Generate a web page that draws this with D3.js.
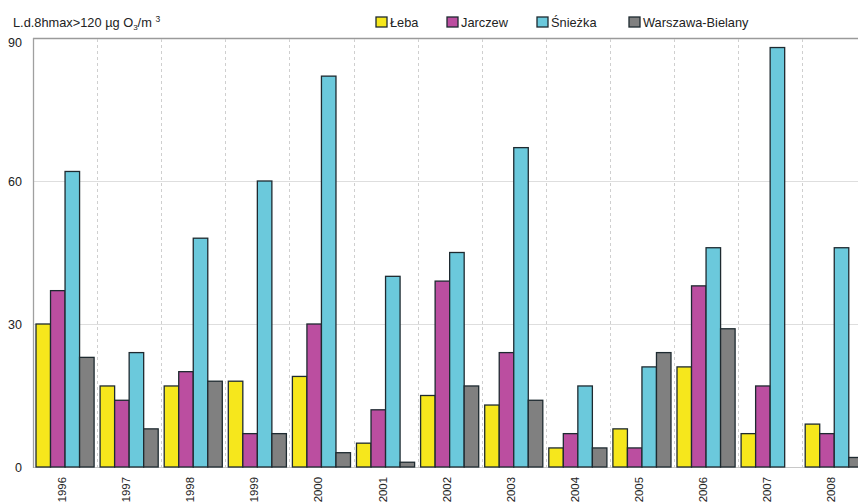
<!DOCTYPE html>
<html>
<head>
<meta charset="utf-8">
<script src="https://cdn.jsdelivr.net/npm/d3@7"></script>
<style>
body { margin: 0; background: #fff; }
svg { display: block; font-family: "Liberation Sans", Arial, sans-serif; }
</style>
</head>
<body>
<svg id="chart" width="858" height="503"></svg>
<script>
const years = ["1996","1997","1998","1999","2000","2001","2002","2003","2004","2005","2006","2007","2008"];
const seriesNames = ["Łeba", "Jarczew", "Śnieżka", "Warszawa-Bielany"];
const leba     = [30, 17, 17, 18, 19, 5, 15, 13, 4, 8, 21, 7, 9];
const jarczew  = [37, 14, 20, 7, 30, 12, 39, 24, 7, 4, 38, 17, 7];
const sniezka  = [62, 24, 48, 60, 82, 40, 45, 67, 17, 21, 46, 88, 46];
const warszawa = [23, 8, 18, 7, 3, 1, 17, 14, 4, 24, 29, 0, 2];
const yTicks = [0, 30, 60, 90];
const colors = ["#f6e71c", "#bb4ea0", "#6bc9dc", "#808080"];

const values = [leba, jarczew, sniezka, warszawa];
const data = years.map((yr, i) => ({ year: yr, vals: seriesNames.map((s, k) => ({ key: s, value: values[k][i], color: colors[k] })) }));

const svg = d3.select("#chart");
const pLeft = 33, pBottom = 467, pTop = 38, step = 64.1;

const x0 = d3.scaleBand().domain(years).range([pLeft, pLeft + step * years.length]).paddingInner(0).paddingOuter(0);
const x1 = d3.scaleBand().domain(seriesNames).range([3, x0.bandwidth() - 3]).padding(0);
const y = d3.scaleLinear().domain([0, 90]).range([pBottom, pTop]);

// horizontal grid
svg.append("g").selectAll("line").data(yTicks.filter(t => t > 0)).join("line")
  .attr("x1", pLeft).attr("x2", 858)
  .attr("y1", d => y(d) + 0.5).attr("y2", d => y(d) + 0.5)
  .attr("stroke", d => d === 90 ? "#9a9a9a" : "#dedede")
  .attr("stroke-width", d => d === 90 ? 1.3 : 1);

// vertical dashed grid
svg.append("g").selectAll("line").data(years.slice(1)).join("line")
  .attr("x1", d => Math.round(x0(d)) + 0.5).attr("x2", d => Math.round(x0(d)) + 0.5)
  .attr("y1", pTop + 1).attr("y2", pBottom)
  .attr("stroke", "#cfcfcf").attr("stroke-dasharray", "3,3");

// bottom baseline
svg.append("line").attr("x1", pLeft).attr("x2", 858).attr("y1", pBottom + 0.5).attr("y2", pBottom + 0.5)
  .attr("stroke", "#c8c8c8");

// left axis line
svg.append("line").attr("x1", pLeft + 0.5).attr("x2", pLeft + 0.5).attr("y1", pTop).attr("y2", pBottom + 1)
  .attr("stroke", "#a0a0a0").attr("stroke-width", 1.3);

// bars
const groups = svg.append("g").selectAll("g").data(data).join("g")
  .attr("transform", d => `translate(${x0(d.year)},0)`);
groups.selectAll("rect").data(d => d.vals.filter(v => v.value > 0)).join("rect")
  .attr("x", d => x1(d.key))
  .attr("width", x1.bandwidth())
  .attr("y", d => y(d.value))
  .attr("height", d => y(0) - y(d.value))
  .attr("fill", d => d.color)
  .attr("stroke", "#1e2a30").attr("stroke-width", 1.3);

// y axis labels
const yAxis = d3.axisLeft(y).tickValues(yTicks).tickSize(0).tickPadding(11);
const ya = svg.append("g").attr("transform", `translate(${pLeft},0)`).call(yAxis);
ya.select(".domain").remove();
ya.selectAll("text").attr("font-size", 12.5).attr("fill", "#222")
  .attr("font-family", "'Liberation Sans', Arial, sans-serif")
  .attr("dy", d => d === 90 ? "0.7em" : "0.38em");

// x axis labels
const xAxis = d3.axisBottom(x0).tickSize(0).tickPadding(0);
const xa = svg.append("g").attr("transform", `translate(0,${pBottom})`).call(xAxis);
xa.select(".domain").remove();
xa.selectAll("text").attr("font-size", 11.4).attr("fill", "#222")
  .attr("font-family", "'Liberation Sans', Arial, sans-serif")
  .attr("text-anchor", "end")
  .attr("transform", "rotate(-90)")
  .attr("x", -10).attr("y", -3).attr("dy", "0.35em");

// y title
const t = svg.append("text").attr("x", 13).attr("y", 27).attr("font-size", 12.8).attr("fill", "#222");
t.append("tspan").text("L.d.8hmax>120 µg O");
t.append("tspan").attr("font-size", 8).attr("dy", 3).text("3");
t.append("tspan").attr("dy", -3).text("/m ");
t.append("tspan").attr("font-size", 8.5).attr("dy", -5).text("3");

// legend
const legX = [376, 447, 537, 629];
const leg = svg.append("g").selectAll("g").data(seriesNames).join("g")
  .attr("transform", (d, i) => `translate(${legX[i]},17)`);
leg.append("rect").attr("width", 11).attr("height", 10)
  .attr("fill", (d, i) => colors[i]).attr("stroke", "#1e2a30").attr("stroke-width", 1.3);
leg.append("text").attr("x", 14).attr("y", 9.8).attr("font-size", 12.8).attr("fill", "#222").text(d => d);
</script>
</body>
</html>
